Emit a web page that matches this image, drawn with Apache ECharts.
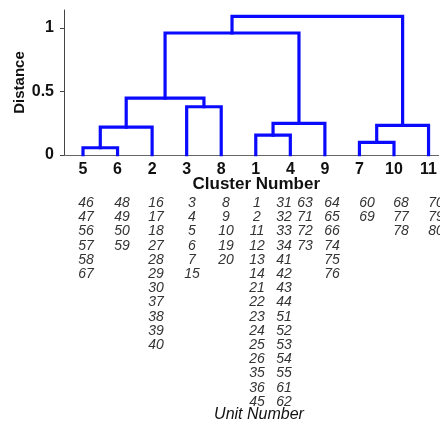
<!DOCTYPE html>
<html>
<head>
<meta charset="utf-8">
<script src="https://cdn.jsdelivr.net/npm/echarts@6/dist/echarts.min.js"></script>
<style>
html,body{margin:0;padding:0;background:#fff;}
#chart{width:440px;height:423px;}
</style>
</head>
<body>
<div id="chart"></div>
<script>
// ---- data ----
const leafLabels = ['5','6','2','3','8','1','4','9','7','10','11'];
const mergeName   = ['A','B','C','D','E','F','G','H','I','J'];
const mergeLeft   = ['5','A','3','B','1','E','D','7','H','G'];
const mergeRight  = ['6','2','8','C','4','9','F','10','11','I'];
const mergeHeight = [0.057,0.22,0.38,0.448,0.157,0.249,0.961,0.1,0.233,1.092];
const yTicks = [0, 0.5, 1];
const unitColumns = [
  ['46','47','56','57','58','67'],
  ['48','49','50','59'],
  ['16','17','18','27','28','29','30','37','38','39','40'],
  ['3','4','5','6','7','15'],
  ['8','9','10','19','20'],
  ['1','2','11','12','13','14','21','22','23','24','25','26','35','36','45'],
  ['31','32','33','34','41','42','43','44','51','52','53','54','55','61','62'],
  ['63','71','72','73'],
  ['64','65','66','74','75','76'],
  ['60','69'],
  ['68','77','78'],
  ['70','79','80']
];
const xTitle = 'Cluster Number';
const yTitle = 'Distance';
const unitTitle = 'Unit Number';

// ---- layout ----
const columnX = [86,122,156,192,226,257,284,305,332,367,401,436];
const FONT = '"Liberation Sans", Arial, sans-serif';

// node positions
const nodePos = {};
leafLabels.forEach((l, i) => { nodePos[l] = [i, 0]; });
const series = [];
mergeName.forEach((n, k) => {
  const a = nodePos[mergeLeft[k]], b = nodePos[mergeRight[k]], h = mergeHeight[k];
  nodePos[n] = [(a[0] + b[0]) / 2, h];
  series.push({
    type: 'line',
    data: [[a[0], a[1]], [a[0], h], [b[0], h], [b[0], b[1]]],
    symbol: 'none',
    silent: true,
    animation: false,
    lineStyle: { color: '#0a0aff', width: 3.2, cap: 'square', join: 'miter' }
  });
});

const chart = echarts.init(document.getElementById('chart'), null, { renderer: 'canvas' });

const graphics = unitColumns.map((col, i) => ({
  type: 'text',
  x: columnX[i],
  y: 196,
  style: {
    text: col.join('\n'),
    font: 'italic 14px ' + FONT,
    fill: '#333',
    align: 'center',
    verticalAlign: 'top',
    lineHeight: 14.2
  }
}));
graphics.push({
  type: 'text', x: 259, y: 407,
  style: { text: unitTitle, font: 'italic 16px ' + FONT, fill: '#111', align: 'center', verticalAlign: 'top' }
});

chart.setOption({
  animation: false,
  grid: { left: 64, right: 0, top: 10, bottom: 268, containLabel: false },
  xAxis: {
    type: 'value', min: -0.55, max: 10.29,
    splitLine: { show: false },
    axisTick: { show: false },
    axisLine: { show: true, onZero: false, lineStyle: { color: '#666', width: 1.2 } },
    axisLabel: {
      customValues: leafLabels.map((l, i) => i),
      formatter: v => leafLabels[Math.round(v)],
      fontFamily: FONT,
      fontWeight: 'bold', fontSize: 16, color: '#111', margin: 7
    },
    name: xTitle, nameLocation: 'middle', nameGap: 21, nameMoveOverlap: false,
    nameTextStyle: { fontFamily: FONT, fontWeight: 'bold', fontSize: 17, color: '#111', padding: [0,0,0,10] }
  },
  yAxis: {
    type: 'value', min: 0, max: 1.142,
    splitLine: { show: false },
    axisLine: { show: true, onZero: false, lineStyle: { color: '#444', width: 1 } },
    axisTick: { show: true, length: 4, customValues: yTicks, lineStyle: { color: '#444' } },
    axisLabel: {
      customValues: yTicks,
      fontFamily: FONT,
      fontWeight: 'bold', fontSize: 16, color: '#111', margin: 10
    },
    name: yTitle, nameLocation: 'middle', nameGap: 37, nameRotate: 90, nameMoveOverlap: false,
    nameTextStyle: { fontFamily: FONT, fontWeight: 'bold', fontSize: 15, color: '#111' }
  },
  graphic: graphics,
  series: series
});
</script>
</body>
</html>
